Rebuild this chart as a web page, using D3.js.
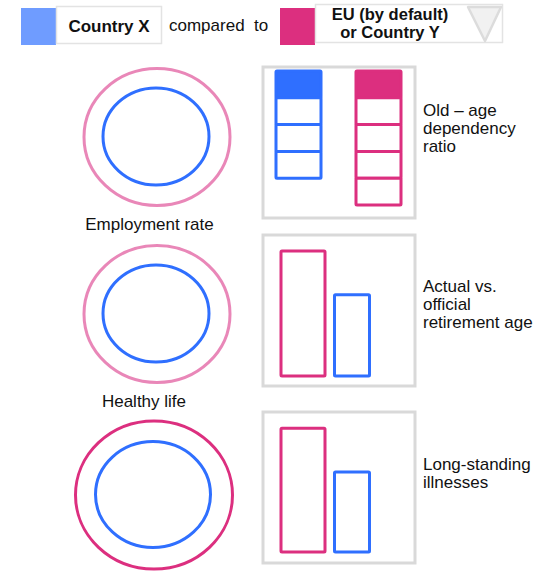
<!DOCTYPE html>
<html>
<head>
<meta charset="utf-8">
<script src="https://cdn.jsdelivr.net/npm/d3@7"></script>
<style>
  body { margin: 0; background: #fff; }
  svg { display: block; font-family: "Liberation Sans", Arial, sans-serif; }
  .lbl { font-size: 17px; fill: #111; }
</style>
</head>
<body>
<svg id="chart" width="541" height="574"></svg>
<script>
'use strict';

// circles: country X (inner) vs EU (outer)
var circleNames = ['Employment rate', 'Healthy life', ''];
var circleEU = [73, 73, 78.5];
var circleX = [53, 53, 57.5];

// old-age dependency: workers per retiree
var depNames = ['Country X', 'EU'];
var depWorkers = [3, 4];

// bar boxes
var barNames = [['Actual vs.', 'official', 'retirement age'], ['Long-standing', 'illnesses']];
var barEU = [100, 99];
var barX = [65, 64];

var blue = '#2f6fff';
var pink = '#dc2f7f';
var lightPink = '#e987b8';
var outerColors = [lightPink, lightPink, pink];

var svg = d3.select('#chart');

// header
function drawHeader() {
    var g = svg.append('g').attr('class', 'header');
    g.append('rect').attr('x', 21).attr('y', 8).attr('width', 35).attr('height', 37).attr('fill', '#6f9cff');
    g.append('rect').attr('x', 56.5).attr('y', 6.5).attr('width', 105).attr('height', 37)
        .attr('fill', '#fff').attr('stroke', '#e3e3e3').attr('stroke-width', 1.5);
    g.append('text').attr('class', 'lbl').attr('x', 109).attr('y', 32)
        .attr('text-anchor', 'middle').attr('font-weight', 'bold').text('Country X');
    g.append('text').attr('class', 'lbl').attr('x', 169).attr('y', 31)
        .style('white-space', 'pre').text('compared  to');
    g.append('rect').attr('x', 280).attr('y', 8).attr('width', 35).attr('height', 37).attr('fill', pink);
    g.append('rect').attr('x', 315.5).attr('y', 4.5).attr('width', 187).attr('height', 38)
        .attr('fill', '#fff').attr('stroke', '#e3e3e3').attr('stroke-width', 1.5);
    g.append('text').attr('class', 'lbl').attr('x', 390).attr('y', 19.5)
        .attr('text-anchor', 'middle').attr('font-weight', 'bold').style('font-size', '16.5px')
        .text('EU (by default)');
    g.append('text').attr('class', 'lbl').attr('x', 390).attr('y', 37.5)
        .attr('text-anchor', 'middle').attr('font-weight', 'bold').style('font-size', '16.5px')
        .text('or Country Y');
    g.append('path').attr('d', 'M468,7 L501,7 L485,41 Z')
        .attr('fill', '#f1f1f1').attr('stroke', '#dcdcdc').attr('stroke-width', 2.5)
        .attr('stroke-linejoin', 'round');
}

// circles
function drawCircles() {
    var rx = d3.scaleLinear().domain([0, 100]).range([0, 100]);
    var ry = d3.scaleLinear().domain([0, 100]).range([-4.5, 95.5]);
    var cy = d3.scaleLinear().domain([0, 1, 2]).range([137, 314, 495]);
    var cx = d3.scaleOrdinal().domain([0, 1, 2]).range([157, 157, 154]);

    var g = svg.append('g').attr('class', 'circles');
    var rows = g.selectAll('g.row').data(circleNames).enter().append('g').attr('class', 'row');

    rows.append('ellipse')
        .attr('cx', function (d, i) { return cx(i); })
        .attr('cy', function (d, i) { return cy(i); })
        .attr('rx', function (d, i) { return rx(circleEU[i]); })
        .attr('ry', function (d, i) { return ry(circleEU[i]); })
        .attr('fill', 'none')
        .attr('stroke', function (d, i) { return outerColors[i]; })
        .attr('stroke-width', 3);

    rows.append('ellipse')
        .attr('cx', function (d, i) { return cx(i) - 1; })
        .attr('cy', function (d, i) { return cy(i) - 0.5; })
        .attr('rx', function (d, i) { return rx(circleX[i]); })
        .attr('ry', function (d, i) { return ry(circleX[i]); })
        .attr('fill', 'none')
        .attr('stroke', blue)
        .attr('stroke-width', 3);

    rows.append('text').attr('class', 'lbl')
        .attr('x', function (d, i) { return i === 0 ? 149.5 : 144; })
        .attr('y', function (d, i) { return cy(i) + 93; })
        .attr('text-anchor', 'middle')
        .text(function (d) { return d; });
}

function frame(x, y) {
    svg.append('rect').attr('x', x).attr('y', y).attr('width', 152).attr('height', 151)
        .attr('fill', 'none').attr('stroke', '#d9d9d9').attr('stroke-width', 3);
}

function rightLabel(lines, y0) {
    var t = svg.append('text').attr('class', 'lbl').attr('x', 423).attr('y', y0);
    lines.forEach(function (s, i) {
        t.append('tspan').attr('x', 423).attr('dy', i === 0 ? 0 : 18.4).text(s);
    });
}

// old-age dependency
function drawDependency() {
    frame(263, 67);
    var cell = d3.scaleLinear().domain([0, 5]).range([71, 205]);
    var colX = d3.scaleOrdinal().domain(depNames).range([276, 356]);
    var colors = [blue, pink];
    var g = svg.append('g').attr('class', 'dependency');

    depNames.forEach(function (name, k) {
        var cells = d3.range(depWorkers[k] + 1);
        g.selectAll('rect.c' + k).data(cells).enter().append('rect')
            .attr('class', 'c' + k)
            .attr('x', colX(name))
            .attr('y', function (d) { return cell(d); })
            .attr('width', 45)
            .attr('height', cell(1) - cell(0))
            .attr('fill', function (d) { return d === 0 ? colors[k] : '#fff'; })
            .attr('stroke', colors[k])
            .attr('stroke-width', 3)
            .attr('rx', 1);
    });
    rightLabel(['Old \u2013 age', 'dependency', 'ratio'], 115.5);
}

// bars
function drawBars() {
    var h = d3.scaleLinear().domain([0, 100]).range([0, 125]);
    var boxY = [235, 412];
    var base = [376, 552];
    var labelY = [291.5, 469.5];
    var g = svg.append('g').attr('class', 'bars');

    barNames.forEach(function (lines, i) {
        frame(263, boxY[i]);
        g.append('rect')
            .attr('x', 281).attr('width', 44)
            .attr('y', base[i] - h(barEU[i])).attr('height', h(barEU[i]))
            .attr('fill', 'none').attr('stroke', pink).attr('stroke-width', 3).attr('rx', 1);
        g.append('rect')
            .attr('x', 334.5).attr('width', 35)
            .attr('y', base[i] - h(barX[i])).attr('height', h(barX[i]))
            .attr('fill', 'none').attr('stroke', blue).attr('stroke-width', 3).attr('rx', 1);
        rightLabel(lines, labelY[i]);
    });
}

drawHeader();
drawCircles();
drawDependency();
drawBars();
</script>
</body>
</html>
